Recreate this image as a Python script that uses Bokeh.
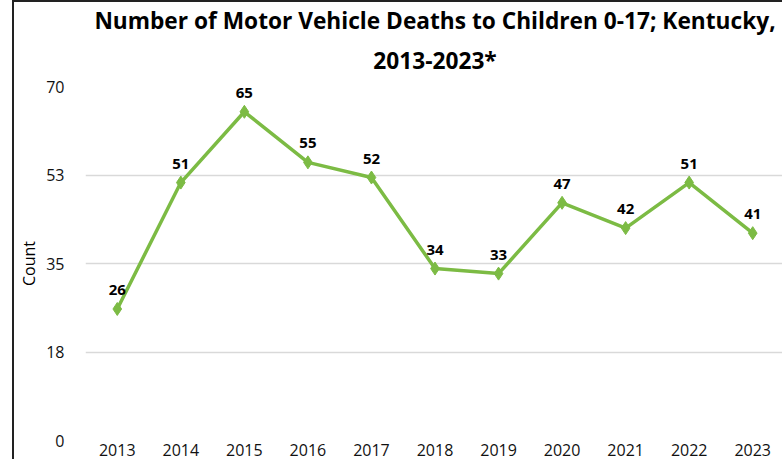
from bokeh.plotting import figure
from bokeh.models import Range1d, FixedTicker, Title, ColumnDataSource
from bokeh.core.properties import value
from bokeh.embed import file_html
from bokeh.resources import INLINE

years = [2013, 2014, 2015, 2016, 2017, 2018, 2019, 2020, 2021, 2022, 2023]
deaths = [26, 51, 65, 55, 52, 34, 33, 47, 42, 51, 41]
y_ticks = [0, 17.5, 35, 52.5, 70]
y_tick_labels = ["0", "18", "35", "53", "70"]
title_lines = ["Number of Motor Vehicle Deaths to Children 0-17; Kentucky,", "2013-2023*"]

GREEN = "#7cbb44"
FONT = "Open Sans"

src = ColumnDataSource(dict(x=years, y=deaths, lbl=[str(v) for v in deaths]))

p = figure(width=770, height=459, output_backend="svg", toolbar_location=None,
           x_range=Range1d(2012.5, 2023.5), y_range=Range1d(0, 70),
           min_border_left=71, min_border_right=0, min_border_top=84,
           min_border_bottom=21)
p.margin = (0, 0, 0, 12)
p.styles = {"border-left": "2px solid #222222", "border-top": "2px solid #222222"}
p.outline_line_color = None

p.add_layout(Title(text=title_lines[1], align="center", text_font=FONT,
                   text_font_size="22.7px", text_font_style="bold",
                   text_color="#000000", standoff=18,
                   vertical_align="top", text_baseline="top"), "above")
p.add_layout(Title(text=title_lines[0],
                   align="center", text_font=FONT, text_font_size="22.7px",
                   text_font_style="bold", text_color="#000000", standoff=0), "above")

p.xgrid.grid_line_color = None
p.ygrid.grid_line_color = "#d9d9d9"
p.ygrid.grid_line_width = 1.5

p.yaxis.ticker = FixedTicker(ticks=y_ticks)
p.yaxis.major_label_overrides = {t: l for t, l in zip(y_ticks, y_tick_labels)}
p.xaxis.ticker = FixedTicker(ticks=years)
for ax in (p.xaxis[0], p.yaxis[0]):
    ax.axis_line_color = None
    ax.major_tick_line_color = None
    ax.minor_tick_line_color = None
    ax.major_tick_out = 0
    ax.major_tick_in = 0
    ax.minor_tick_out = 0
    ax.minor_tick_in = 0
    ax.major_label_text_font = FONT
    ax.major_label_text_font_size = "16px"
    ax.major_label_text_color = "#111111"
p.yaxis.major_label_standoff = 21
p.xaxis.major_label_standoff = 3
p.yaxis.axis_label = "Count"
p.yaxis.axis_label_text_font = FONT
p.yaxis.axis_label_text_font_size = "16px"
p.yaxis.axis_label_text_font_style = "normal"
p.yaxis.axis_label_text_color = "#000000"
p.yaxis.axis_label_standoff = 3

p.line("x", "y", source=src, line_color=GREEN, line_width=3.5)
p.scatter("x", "y", source=src, marker="diamond", size=13, color=GREEN)
p.text("x", "y", text="lbl", source=src, text_font=value(FONT),
       text_font_size="15px", text_font_style="bold", text_color="#000000",
       text_align="center", text_baseline="middle", y_offset=-19)

open("out.html", "w").write(file_html(p, INLINE))
